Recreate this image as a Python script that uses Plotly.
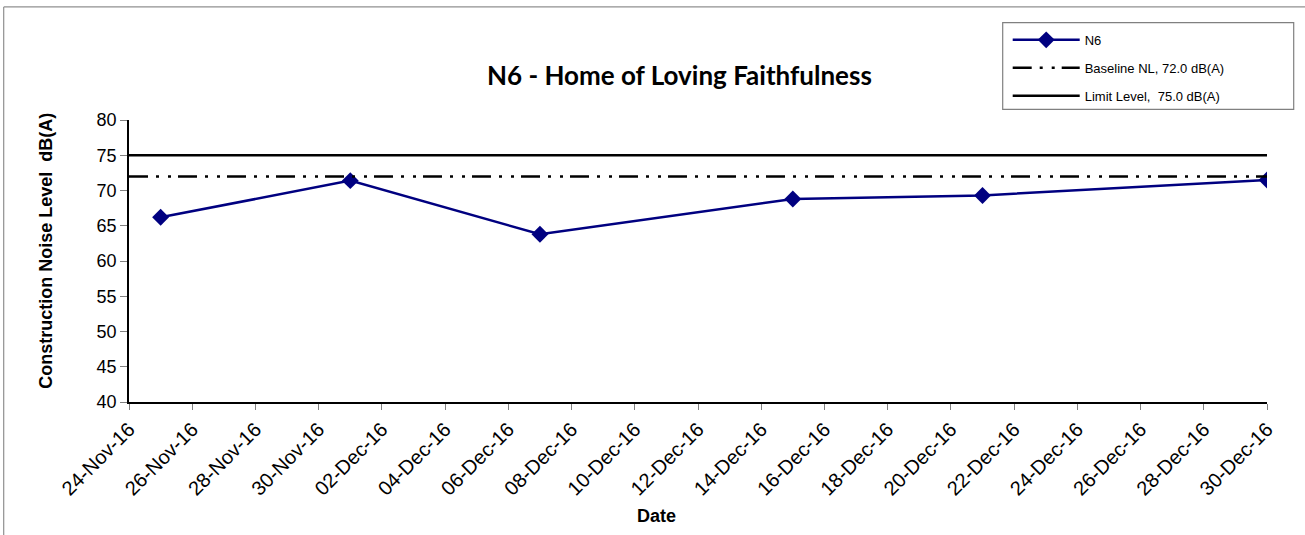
import plotly.graph_objects as go

# ---- data ----
dates = ["2016-11-25", "2016-12-01", "2016-12-07", "2016-12-15", "2016-12-21", "2016-12-30"]
n6_values = [66.2, 71.4, 63.8, 68.8, 69.3, 71.5]
line_dates = ["2016-11-24", "2016-12-30"]
baseline_values = [72.0, 72.0]
limit_values = [75.0, 75.0]
series_names = ["N6", "Baseline NL, 72.0 dB(A)", "Limit Level,  75.0 dB(A)"]
title_text = "N6 - Home of Loving Faithfulness"
y_title = "Construction Noise Level  dB(A)"
x_title = "Date"

W, H = 1305, 535
L, R, T, B = 129.3, 1267.3, 120.0, 401.7
pw, ph = R - L, B - T

def px(x):
    return (x - L) / pw

def py(y):
    return (B - y) / ph

fig = go.Figure()
fig.add_trace(go.Scatter(
    x=dates, y=n6_values, name=series_names[0], mode="lines+markers",
    line=dict(color="#000080", width=2.5),
    marker=dict(symbol="diamond", size=13, color="#000080"),
    legendgroup="a"))
fig.add_trace(go.Scatter(
    x=line_dates, y=baseline_values, name=series_names[1], mode="lines",
    line=dict(color="black", width=2.5, dash="19px,8px,3px,9px,3px,7px"),
    legendgroup="b"))
fig.add_trace(go.Scatter(
    x=line_dates, y=limit_values, name=series_names[2], mode="lines",
    line=dict(color="black", width=2.5),
    legendgroup="c"))

xtick_font = dict(family="Liberation Sans, Arial", size=20, color="black")
ytick_font = dict(family="Liberation Sans, Arial", size=18, color="black")

fig.update_layout(
    width=W, height=H,
    margin=dict(l=L, r=W - R, t=T, b=H - B, pad=0),
    paper_bgcolor="white", plot_bgcolor="white",
    showlegend=True,
    legend=dict(
        x=px(1008), y=py(25), xanchor="left", yanchor="top",
        font=dict(family="Liberation Sans, Arial", size=13, color="black"),
        bgcolor="rgba(0,0,0,0)", borderwidth=0,
        itemwidth=67, tracegroupgap=8,
    ),
    xaxis=dict(
        type="date", range=["2016-11-24", "2016-12-30"],
        dtick=2 * 86400000, tick0="2016-11-24",
        tickformat="%d-%b-%y", tickangle=-45,
        ticks="outside", ticklen=6, tickcolor="#808080",
        showline=True, linecolor="black", linewidth=1.5,
        showgrid=False, zeroline=False, tickfont=xtick_font,
    ),
    yaxis=dict(
        range=[40, 80], dtick=5, tick0=40,
        ticks="outside", ticklen=7, tickcolor="#808080",
        showline=True, linecolor="black", linewidth=1.5,
        showgrid=False, zeroline=False, tickfont=ytick_font,
    ),
    annotations=[
        dict(text="<b>" + title_text + "</b>", xref="paper", yref="paper",
             x=px(680), y=py(75), xanchor="center", yanchor="middle", showarrow=False,
             font=dict(family="Lato, Open Sans", size=26, color="black")),
        dict(text="<b>" + y_title + "</b>", xref="paper", yref="paper",
             x=px(46), y=py(251), xanchor="center", yanchor="middle", showarrow=False,
             textangle=-90, font=dict(family="Liberation Sans, Arial", size=18, color="black")),
        dict(text="<b>" + x_title + "</b>", xref="paper", yref="paper",
             x=px(657), y=py(516), xanchor="center", yanchor="middle", showarrow=False,
             font=dict(family="Liberation Sans, Arial", size=18, color="black")),
    ],
    shapes=[
        dict(type="rect", xref="paper", yref="paper",
             x0=px(1003), x1=px(1294), y0=py(22.7), y1=py(109.3),
             line=dict(color="#808080", width=1.2), fillcolor="white", layer="below"),
        dict(type="line", xref="paper", yref="paper",
             x0=px(4), x1=px(1310), y0=py(7), y1=py(7),
             line=dict(color="#909090", width=1.2)),
        dict(type="line", xref="paper", yref="paper",
             x0=px(4), x1=px(4), y0=py(7), y1=py(540),
             line=dict(color="#909090", width=1.2)),
    ],
)

fig.write_html("out.html", config={"displayModeBar": False},
               post_script="document.body.style.margin='0';document.body.style.overflow='hidden';")
